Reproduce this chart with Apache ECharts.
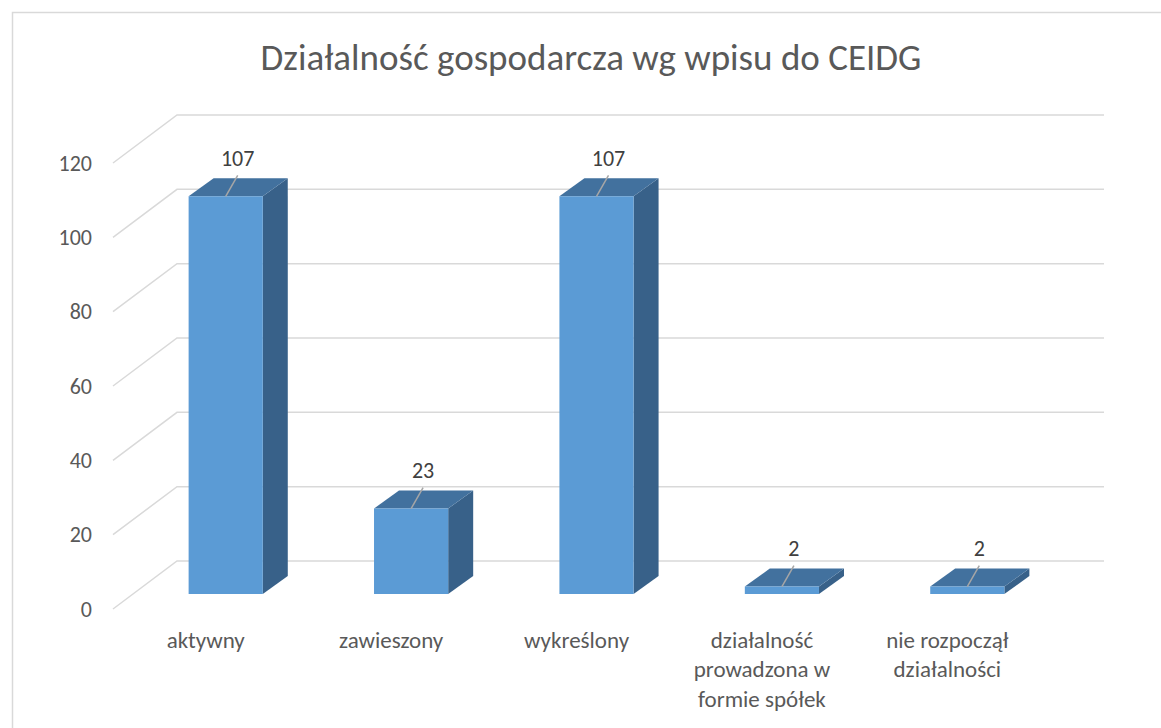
<!DOCTYPE html>
<html>
<head>
<meta charset="utf-8">
<script src="https://cdn.jsdelivr.net/npm/echarts@6/dist/echarts.min.js"></script>
<style>
  html, body { margin: 0; padding: 0; background: #fff; }
  #chart { width: 1161px; height: 728px; }
</style>
</head>
<body>
<div id="chart"></div>
<script>
// dane z wykresu
var categories = ['aktywny', 'zawieszony', 'wykreślony', 'działalność\nprowadzona w\nformie spółek', 'nie rozpoczął\ndziałalności'];
var values = [107, 23, 107, 2, 2];
var yTicks = [0, 20, 40, 60, 80, 100, 120];

var FONT = 'Carlito, Lato, sans-serif';
// przesunięcia "3D" (w pikselach)
var BACK = [64, -48];   // tylna ściana względem płaszczyzny etykiet
var FRONT = [20, -15];  // przednia ściana słupków
var DEPTH = [25, -18];  // głębokość słupka

var chart = echarts.init(document.getElementById('chart'), null, { renderer: 'svg' });

// linie siatki: ukośna + pozioma na tylnej ścianie
function renderGrid(params, api) {
  var cs = params.coordSys;
  var y = api.coord([0, api.value(1)])[1];
  var x0 = cs.x;
  return {
    type: 'polyline',
    shape: { points: [[x0, y], [x0 + BACK[0], y + BACK[1]], [x0 + cs.width + BACK[0], y + BACK[1]]] },
    style: { stroke: '#d9d9d9', lineWidth: 1.5, fill: null }
  };
}

// słupek 3D z etykietą
function renderBar(params, api) {
  var idx = api.value(0);
  var v = api.value(1);
  var bottom = api.coord([idx, 0]);
  var top = api.coord([idx, v]);
  var w = api.size([1, 0])[0] * 0.4;
  var cx = bottom[0] + FRONT[0];
  var l = cx - w / 2, r = cx + w / 2;
  var yb = bottom[1] + FRONT[1], yt = top[1] + FRONT[1];
  var dx = DEPTH[0], dy = DEPTH[1];
  return {
    type: 'group',
    children: [
      { type: 'polygon', shape: { points: [[r, yt], [r + dx, yt + dy], [r + dx, yb + dy], [r, yb]] },
        style: { fill: '#386189' } },
      { type: 'polygon', shape: { points: [[l, yt], [l + dx, yt + dy], [r + dx, yt + dy], [r, yt]] },
        style: { fill: '#42719e' } },
      { type: 'rect', shape: { x: l, y: yt, width: w, height: yb - yt },
        style: { fill: '#5b9bd5' } },
      { type: 'line', shape: { x1: cx, y1: yt, x2: cx + 12, y2: yt - 21 },
        style: { stroke: '#a6a6a6', lineWidth: 1.5 } },
      { type: 'text', style: { text: String(v), x: cx + 12, y: yt - 38, align: 'center', verticalAlign: 'middle',
        fill: '#404040', font: '22px ' + FONT } }
    ]
  };
}

var option = {
  title: {
    text: 'Działalność gospodarcza wg wpisu do CEIDG',
    left: 586,
    top: 34,
    textAlign: 'center',
    textStyle: { fontFamily: FONT, fontSize: 37, fontWeight: 'normal', color: '#595959' }
  },
  graphic: [{
    type: 'rect', left: 10, top: 10, silent: true,
    shape: { width: 1200, height: 800 },
    style: { fill: null, stroke: '#d9d9d9', lineWidth: 1.5 }
  }],
  grid: { left: 113, right: 121, top: 163, bottom: 119 },
  xAxis: {
    type: 'category',
    data: categories,
    axisLine: { show: false },
    axisTick: { show: false },
    axisLabel: { color: '#595959', fontFamily: FONT, fontSize: 23, lineHeight: 29.5, margin: 16, interval: 0 }
  },
  yAxis: {
    type: 'value',
    min: 0, max: 120, interval: 20,
    axisLine: { show: false },
    axisTick: { show: false },
    splitLine: { show: false },
    axisLabel: { color: '#595959', fontFamily: FONT, fontSize: 22, margin: 21 }
  },
  series: [
    {
      type: 'custom',
      renderItem: renderGrid,
      data: yTicks.map(function (t) { return [0, t]; }),
      silent: true,
      z: 1
    },
    {
      type: 'custom',
      renderItem: renderBar,
      data: values.map(function (v, i) { return [i, v]; }),
      z: 2
    }
  ]
};
chart.setOption(option);
</script>
</body>
</html>
